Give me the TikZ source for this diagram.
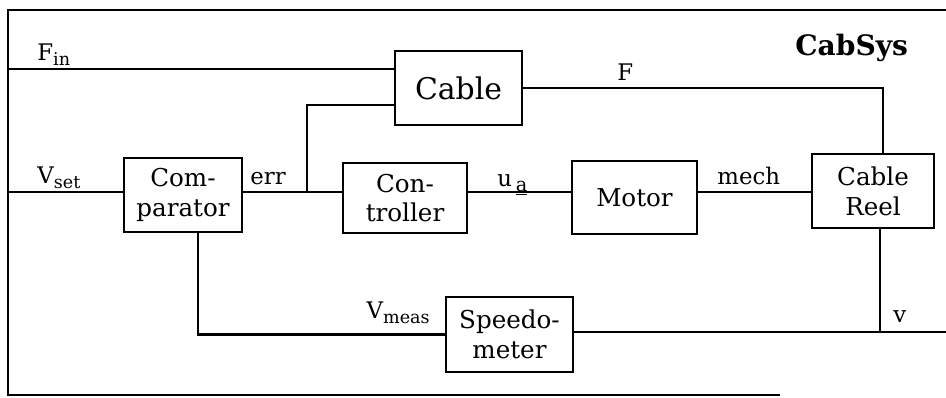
\documentclass[tikz,border=0pt]{standalone}
\usepackage{fontspec}
\setmainfont{DejaVu Serif}
\usetikzlibrary{positioning}

\newcommand{\sigsub}[1]{\raisebox{-3pt}{\fontsize{10}{11}\selectfont #1}}

\begin{document}
\begin{tikzpicture}[x=0.02cm, y=-0.02cm,
  block/.style={draw, line width=1.3pt, align=center, inner sep=0pt,
    font=\fontsize{14}{17}\selectfont},
  sig/.style={line width=1.3pt},
  lbl/.style={inner sep=0pt, font=\fontsize{13}{15}\selectfont}
]
  \useasboundingbox (0,0) rectangle (946,397);

  % Rahmen
  \draw[line width=1.1pt] (946,10) -- (8,10) -- (8,395) -- (780,395);
  \node[anchor=base west, inner sep=0pt, font=\fontsize{16}{18}\bfseries] (title) at (795,55) {CabSys};

  % Bloecke
  \node[block, minimum width=2.54cm, minimum height=1.48cm, font=\fontsize{17}{20}\selectfont] (cable) at (458.5,88) {Cable};
  \node[block, minimum width=2.36cm, minimum height=1.48cm] (comp) at (183,195) {Com-\\parator};
  \node[block, minimum width=2.48cm, minimum height=1.40cm] (ctrl) at (405,198) {Con-\\troller};
  \node[block, minimum width=2.50cm, minimum height=1.46cm] (motor) at (634.5,197.5) {Motor};
  \node[block, minimum width=2.44cm, minimum height=1.48cm] (reel) at (873,191) {Cable\\Reel};
  \node[block, minimum width=2.54cm, minimum height=1.50cm] (speedo) at (509.5,334.5) {Speedo-\\meter};

  % Eingaenge
  \coordinate (fin) at (8,69);
  \coordinate (vset) at (8,192);
  \coordinate (errj) at (307,192);
  \coordinate (vout) at (946,332);

  % Signale
  \draw[sig] (fin) -- (fin -| cable.west);
  \draw[sig] (vset) -- (vset -| comp.west);
  \draw[sig] (comp.east |- errj) -- (ctrl.west |- errj);
  \draw[sig] (errj) |- ([yshift=-0.34cm]cable.west);
  \draw[sig] (ctrl.east |- errj) -- (motor.west |- errj);
  \draw[sig] (motor.east |- errj) -- (reel.west |- errj);
  \draw[sig] (cable.east) -| ([xshift=0.2cm]reel.north);
  \draw[sig] ([xshift=0.14cm]reel.south) -- ([xshift=0.14cm]reel.south |- vout);
  \draw[sig] (speedo.east |- vout) -- (vout);
  \draw[sig] ([xshift=0.3cm]comp.south) |- (speedo.west);

  % Signalnamen
  \node[lbl, anchor=base west] (lfin) at (37,60) {F\sigsub{in}};
  \node[lbl, anchor=base west] (lvset) at (37,183) {V\sigsub{set}};
  \node[lbl, anchor=base west] (lerr) at (250,184) {err};
  \node[lbl, anchor=base west] (lua) at (497,186) {u\,\raisebox{-3pt}{\fontsize{11}{12}\selectfont\underline{a}}};
  \node[lbl, anchor=base west] (lmech) at (717,184) {mech};
  \node[lbl, anchor=base west] (lf) at (617,80) {F};
  \node[lbl, anchor=base west] (lv) at (893,322) {v};
  \node[lbl, anchor=base east] (lvmeas) at (430,318) {V\sigsub{meas}};
\end{tikzpicture}
\end{document}
